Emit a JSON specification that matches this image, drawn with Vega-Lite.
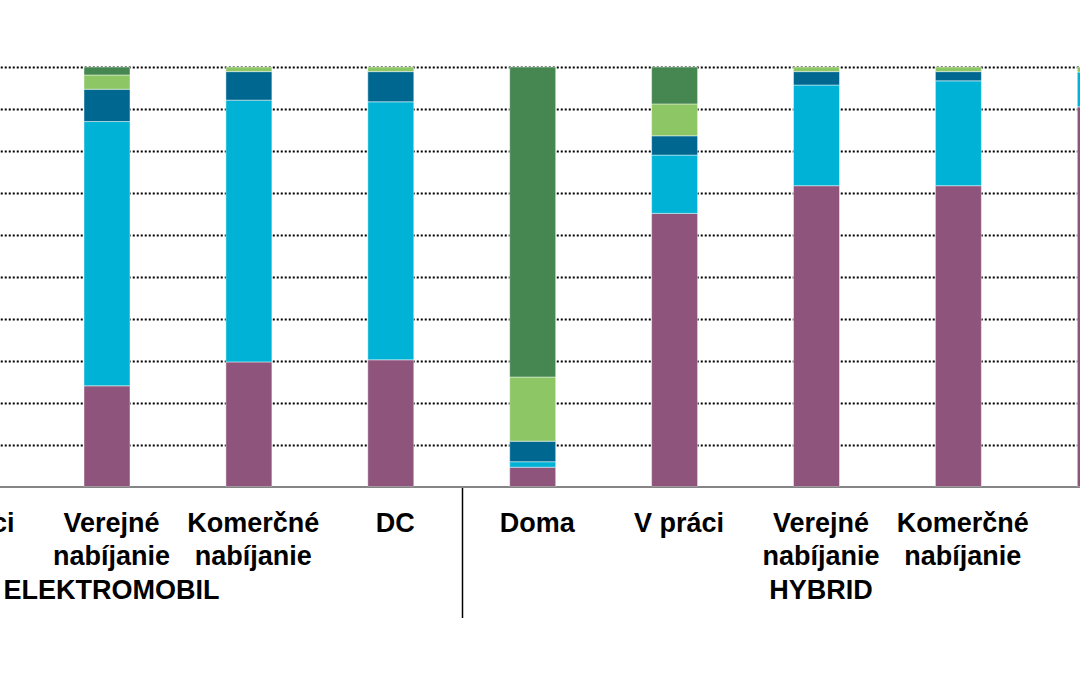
{
  "$schema": "https://vega.github.io/schema/vega-lite/v6.json",
  "width": 1080,
  "height": 419.5,
  "autosize": {"type": "none"},
  "padding": {"left": 0, "top": 67, "right": 0, "bottom": 187.5},
  "background": "white",
  "config": {"view": {"stroke": null}, "font": "Liberation Sans"},
  "data": {
    "values": [
      {"kat": "ELEKTROMOBIL|Verejné nabíjanie", "seria": "Séria 1", "poradie": 1, "hodnota": 24.0},
      {"kat": "ELEKTROMOBIL|Verejné nabíjanie", "seria": "Séria 2", "poradie": 2, "hodnota": 63.0},
      {"kat": "ELEKTROMOBIL|Verejné nabíjanie", "seria": "Séria 3", "poradie": 3, "hodnota": 7.7},
      {"kat": "ELEKTROMOBIL|Verejné nabíjanie", "seria": "Séria 4", "poradie": 4, "hodnota": 3.4},
      {"kat": "ELEKTROMOBIL|Verejné nabíjanie", "seria": "Séria 5", "poradie": 5, "hodnota": 1.9},
      {"kat": "ELEKTROMOBIL|Komerčné nabíjanie", "seria": "Séria 1", "poradie": 1, "hodnota": 29.7},
      {"kat": "ELEKTROMOBIL|Komerčné nabíjanie", "seria": "Séria 2", "poradie": 2, "hodnota": 62.4},
      {"kat": "ELEKTROMOBIL|Komerčné nabíjanie", "seria": "Séria 3", "poradie": 3, "hodnota": 6.8},
      {"kat": "ELEKTROMOBIL|Komerčné nabíjanie", "seria": "Séria 4", "poradie": 4, "hodnota": 1.1},
      {"kat": "ELEKTROMOBIL|DC", "seria": "Séria 1", "poradie": 1, "hodnota": 30.2},
      {"kat": "ELEKTROMOBIL|DC", "seria": "Séria 2", "poradie": 2, "hodnota": 61.5},
      {"kat": "ELEKTROMOBIL|DC", "seria": "Séria 3", "poradie": 3, "hodnota": 7.2},
      {"kat": "ELEKTROMOBIL|DC", "seria": "Séria 4", "poradie": 4, "hodnota": 1.1},
      {"kat": "HYBRID|Doma", "seria": "Séria 1", "poradie": 1, "hodnota": 4.6},
      {"kat": "HYBRID|Doma", "seria": "Séria 2", "poradie": 2, "hodnota": 1.3},
      {"kat": "HYBRID|Doma", "seria": "Séria 3", "poradie": 3, "hodnota": 4.9},
      {"kat": "HYBRID|Doma", "seria": "Séria 4", "poradie": 4, "hodnota": 15.3},
      {"kat": "HYBRID|Doma", "seria": "Séria 5", "poradie": 5, "hodnota": 73.9},
      {"kat": "HYBRID|V práci", "seria": "Séria 1", "poradie": 1, "hodnota": 65.1},
      {"kat": "HYBRID|V práci", "seria": "Séria 2", "poradie": 2, "hodnota": 13.9},
      {"kat": "HYBRID|V práci", "seria": "Séria 3", "poradie": 3, "hodnota": 4.6},
      {"kat": "HYBRID|V práci", "seria": "Séria 4", "poradie": 4, "hodnota": 7.6},
      {"kat": "HYBRID|V práci", "seria": "Séria 5", "poradie": 5, "hodnota": 8.8},
      {"kat": "HYBRID|Verejné nabíjanie", "seria": "Séria 1", "poradie": 1, "hodnota": 71.7},
      {"kat": "HYBRID|Verejné nabíjanie", "seria": "Séria 2", "poradie": 2, "hodnota": 24.0},
      {"kat": "HYBRID|Verejné nabíjanie", "seria": "Séria 3", "poradie": 3, "hodnota": 3.2},
      {"kat": "HYBRID|Verejné nabíjanie", "seria": "Séria 4", "poradie": 4, "hodnota": 1.1},
      {"kat": "HYBRID|Komerčné nabíjanie", "seria": "Séria 1", "poradie": 1, "hodnota": 71.7},
      {"kat": "HYBRID|Komerčné nabíjanie", "seria": "Séria 2", "poradie": 2, "hodnota": 25.0},
      {"kat": "HYBRID|Komerčné nabíjanie", "seria": "Séria 3", "poradie": 3, "hodnota": 2.2},
      {"kat": "HYBRID|Komerčné nabíjanie", "seria": "Séria 4", "poradie": 4, "hodnota": 1.1},
      {"kat": "HYBRID|DC", "seria": "Séria 1", "poradie": 1, "hodnota": 90.5},
      {"kat": "HYBRID|DC", "seria": "Séria 2", "poradie": 2, "hodnota": 8.3},
      {"kat": "HYBRID|DC", "seria": "Séria 4", "poradie": 4, "hodnota": 1.2}
    ]
  },
  "mark": {"type": "bar", "clip": true, "stroke": "white", "strokeWidth": 1, "strokeOpacity": 0.45},
  "encoding": {
    "x": {
      "field": "kat",
      "type": "nominal",
      "sort": null,
      "scale": {
        "domain": [
          "ELEKTROMOBIL|Doma", "ELEKTROMOBIL|V práci", "ELEKTROMOBIL|Verejné nabíjanie", "ELEKTROMOBIL|Komerčné nabíjanie", "ELEKTROMOBIL|DC",
          "HYBRID|Doma", "HYBRID|V práci", "HYBRID|Verejné nabíjanie", "HYBRID|Komerčné nabíjanie", "HYBRID|DC"
        ],
        "range": [-247.75, 1171.25],
        "paddingInner": 0.6758,
        "paddingOuter": 0.3379
      },
      "axis": {
        "title": null,
        "grid": false,
        "labelAngle": 0,
        "labelFont": "Liberation Sans",
        "labelFontSize": 27,
        "labelFontWeight": "bold",
        "labelColor": "black",
        "labelLineHeight": 33.5,
        "labelBaseline": "top",
        "labelPadding": -107.1,
        "labelLimit": 0,
        "labelOverlap": false,
        "labelBound": false,
        "labelFlush": false,
        "labelExpr": "split(datum.value,'|')[1] === 'Verejné nabíjanie' ? ['Verejné', 'nabíjanie', split(datum.value,'|')[0]] : (split(datum.value,'|')[1] === 'Komerčné nabíjanie' ? ['Komerčné', 'nabíjanie'] : split(datum.value,'|')[1])",
        "domainColor": "#858585",
        "domainWidth": 2,
        "tickOffset": 70.95,
        "labelOffset": -67,
        "tickSize": 131,
        "tickWidth": 1.5,
        "tickColor": {"condition": {"test": "datum.value === 'ELEKTROMOBIL|DC'", "value": "black"}, "value": "transparent"}
      }
    },
    "y": {
      "field": "hodnota",
      "type": "quantitative",
      "stack": "zero",
      "scale": {"domain": [0, 100], "nice": false},
      "axis": {
        "title": null,
        "labels": false,
        "ticks": false,
        "domain": false,
        "values": [10, 20, 30, 40, 50, 60, 70, 80, 90, 100],
        "grid": true,
        "gridColor": "black",
        "gridDash": [2, 2],
        "gridWidth": 2,
        "gridOpacity": 1
      }
    },
    "color": {
      "field": "seria",
      "type": "nominal",
      "scale": {
        "domain": ["Séria 1", "Séria 2", "Séria 3", "Séria 4", "Séria 5"],
        "range": ["#8E547C", "#00B3D6", "#006890", "#8CC665", "#468650"]
      },
      "legend": null
    },
    "order": {"field": "poradie", "type": "quantitative"}
  }
}
